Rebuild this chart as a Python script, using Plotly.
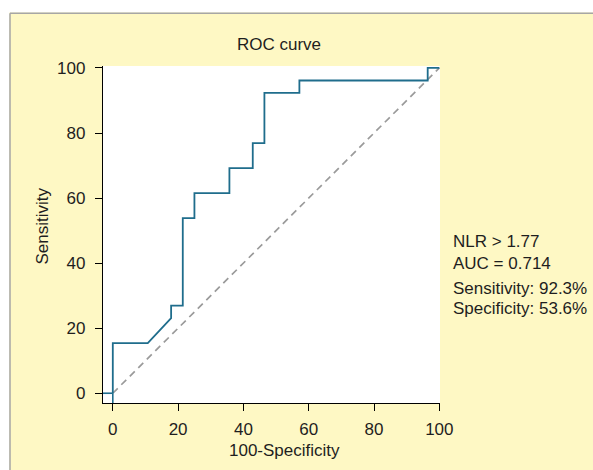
import plotly.graph_objects as go

# ROC curve points (100-Specificity, Sensitivity), in %
roc_fpr = [0, 0, 10.71, 17.86, 17.86, 21.43, 21.43, 25.0, 25.0, 35.71, 35.71,
           42.86, 42.86, 46.43, 46.43, 57.14, 57.14, 96.43, 96.43, 100]
roc_tpr = [0, 15.38, 15.38, 23.08, 26.92, 26.92, 53.85, 53.85, 61.54, 61.54, 69.23,
           69.23, 76.92, 76.92, 92.31, 92.31, 96.15, 96.15, 100, 100]

ref_x = [0, 100]
ref_y = [0, 100]

tick_vals = [0, 20, 40, 60, 80, 100]
tick_text = ["0", "20", "40", "60", "80", "100"]

title_text = "ROC curve"
x_title = "100-Specificity"
y_title = "Sensitivity"
info_lines = ["NLR > 1.77", "AUC = 0.714", "Sensitivity: 92.3%", "Specificity: 53.6%"]

X_MIN, X_MAX = -3, 100.2
Y_MIN, Y_MAX = -3, 100.6

FONT = "Liberation Sans, Arial, sans-serif"
TXT = "#1e1e1e"
CURVE = "#1f6d8c"
YELLOW = "#fef8c4"

fig = go.Figure()

# diagonal reference
fig.add_trace(go.Scatter(x=ref_x, y=ref_y, mode="lines",
                         line=dict(color="#9a9a9a", width=1.7, dash="7px,5px"),
                         hoverinfo="skip", showlegend=False))
# extension of the origin to the axes
fig.add_trace(go.Scatter(x=[X_MIN, roc_fpr[0], None, roc_fpr[0], roc_fpr[0]],
                         y=[roc_tpr[0], roc_tpr[0], None, Y_MIN, roc_tpr[0]],
                         mode="lines", line=dict(color=CURVE, width=1.6),
                         hoverinfo="skip", showlegend=False, cliponaxis=False))
# ROC curve
fig.add_trace(go.Scatter(x=roc_fpr, y=roc_tpr, mode="lines",
                         line=dict(color=CURVE, width=1.8),
                         showlegend=False, cliponaxis=False))

axis_common = dict(
    showgrid=False, zeroline=False, showline=True, linecolor="black", linewidth=1.3,
    ticks="outside", ticklen=7, tickwidth=1.3, tickcolor="black",
    tickvals=tick_vals, ticktext=tick_text,
    tickfont=dict(family=FONT, size=17, color=TXT),
)

fig.update_layout(
    width=593, height=470,
    margin=dict(l=103, r=153, t=66, b=67, autoexpand=False),
    paper_bgcolor=YELLOW, plot_bgcolor="white",
    xaxis=dict(range=[X_MIN, X_MAX], ticklabelstandoff=3, **axis_common),
    yaxis=dict(range=[Y_MIN, Y_MAX], ticklabelstandoff=6, **axis_common),
    font=dict(family=FONT, color=TXT),
)

# page frame: white outside strips + grey frame lines
L = 103.0
W = 337.0
B = 403.0
H = 337.0
def px(v):
    return (v - L) / W
def py(v):
    return (B - v) / H

fig.add_shape(type="rect", xref="paper", yref="paper", x0=-0.5, x1=px(9.3), y0=-0.4, y1=1.4,
              fillcolor="white", line=dict(width=0), layer="above")
fig.add_shape(type="rect", xref="paper", yref="paper", x0=-0.5, x1=1.6, y0=py(12.6), y1=1.4,
              fillcolor="white", line=dict(width=0), layer="above")
fig.add_shape(type="line", xref="paper", yref="paper", x0=px(10), x1=px(10), y0=-0.4, y1=py(13.3),
              line=dict(color="#a6a6a6", width=1.5), layer="above")
fig.add_shape(type="line", xref="paper", yref="paper", x0=px(10), x1=1.6, y0=py(13.3), y1=py(13.3),
              line=dict(color="#a6a6a6", width=1.5), layer="above")

# titles
fig.add_annotation(text=title_text, xref="paper", yref="paper", x=px(279), y=py(45),
                   xanchor="center", yanchor="middle", showarrow=False,
                   font=dict(family=FONT, size=17, color=TXT))
fig.add_annotation(text=x_title, xref="paper", yref="paper", x=px(284), y=py(450),
                   xanchor="center", yanchor="middle", showarrow=False,
                   font=dict(family=FONT, size=17, color=TXT))
fig.add_annotation(text=y_title, xref="paper", yref="paper", x=px(41.5), y=py(226),
                   xanchor="center", yanchor="middle", showarrow=False, textangle=-90,
                   font=dict(family=FONT, size=17, color=TXT))

# info text
for line, ypx in zip(info_lines, [241, 263, 288, 308]):
    fig.add_annotation(text=line, xref="paper", yref="paper", x=px(451), y=py(ypx),
                       xanchor="left", yanchor="middle", showarrow=False,
                       font=dict(family=FONT, size=17, color=TXT))

fig.write_html("out.html", config={"displayModeBar": False},
               post_script="document.body.style.margin='0';document.body.style.overflow='hidden';")
